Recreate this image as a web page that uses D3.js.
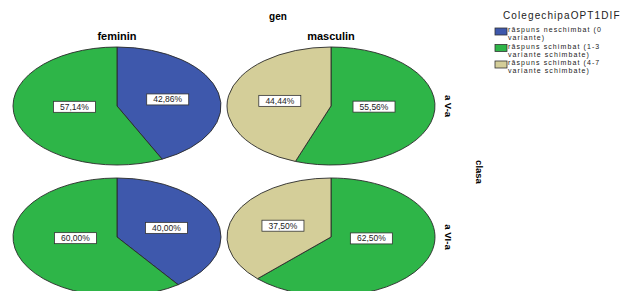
<!DOCTYPE html>
<html><head><meta charset="utf-8">
<script src="https://cdn.jsdelivr.net/npm/d3@7"></script>
<style>body{margin:0;background:#fff}svg{display:block}text{font-family:"Liberation Sans",Arial,sans-serif}</style>
</head><body><svg id="c" width="632" height="291"></svg>
<script>
const categories = ["răspuns neschimbat (0 variante)", "răspuns schimbat (1-3 variante schimbate)", "răspuns schimbat (4-7 variante schimbate)"];
const legendLines = [["răspuns neschimbat (0", "variante)"], ["răspuns schimbat (1-3", "variante schimbate)"], ["răspuns schimbat (4-7", "variante schimbate)"]];
const genders = ["feminin", "masculin"];
const classes = ["a V-a", "a VI-a"];
const femininV = [42.86, 57.14, 0];
const masculinV = [0, 55.56, 44.44];
const femininVI = [40.00, 60.00, 0];
const masculinVI = [0, 62.50, 37.50];
const colors = ["#3e58ac", "#2eb548", "#d4ce99"];

const panels = [
  {g: 0, c: 0, vals: femininV},
  {g: 1, c: 0, vals: masculinV},
  {g: 0, c: 1, vals: femininVI},
  {g: 1, c: 1, vals: masculinVI}
];

const svg = d3.select("#c");
const xCenter = d3.scalePoint().domain(genders).range([117, 331]);
const yCenter = d3.scalePoint().domain(classes).range([106, 237]);
const rx = 104, ry = 59;
const color = d3.scaleOrdinal().domain(categories).range(colors);
const pie = d3.pie().sort(null).value(d => d.v);
const arc = d3.arc().innerRadius(0).outerRadius(rx);
const fmt = v => d3.format(".2f")(v).replace(".", ",") + "%";

panels.forEach(p => {
  const cx = xCenter(genders[p.g]), cy = yCenter(classes[p.c]);
  const data = pie(p.vals.map((v, i) => ({v, cat: categories[i]})));
  const g = svg.append("g").attr("transform", `translate(${cx},${cy}) scale(1,${ry / rx})`);
  g.selectAll("path").data(data.filter(d => d.data.v > 0)).join("path")
    .attr("d", arc).attr("fill", d => color(d.data.cat))
    .attr("stroke", "#2a2a2a").attr("stroke-width", 0.9).attr("vector-effect", "non-scaling-stroke");
  const lg = svg.append("g").attr("transform", `translate(${cx},${cy})`);
  data.filter(d => d.data.v > 0).forEach(d => {
    const a = (d.startAngle + d.endAngle) / 2;
    const big = (d.endAngle - d.startAngle) > Math.PI;
    const k = big ? 0.42 : 0.5, fy = big ? 0.15 : 1;
    const lx = Math.sin(a) * rx * k, ly = -Math.cos(a) * ry * k * fy;
    const t = fmt(d.data.v);
    lg.append("rect").attr("x", lx - 21).attr("y", ly - 5.5).attr("width", 42).attr("height", 11)
      .attr("fill", "#fff").attr("stroke", "#333").attr("stroke-width", 0.8);
    lg.append("text").attr("x", lx).attr("y", ly + 3).attr("text-anchor", "middle")
      .attr("font-size", 8.5).attr("fill", "#222").text(t);
  });
});

// headers
svg.append("text").attr("x", 278).attr("y", 20).attr("text-anchor", "middle")
  .attr("font-size", 10).attr("font-weight", "bold").text("gen");
genders.forEach(gn => svg.append("text").attr("x", xCenter(gn)).attr("y", 40).attr("text-anchor", "middle")
  .attr("font-size", 11).attr("font-weight", "bold").text(gn));
classes.forEach(cl => svg.append("text").attr("transform", `translate(445,${yCenter(cl)}) rotate(90)`)
  .attr("text-anchor", "middle").attr("font-size", 9.5).attr("font-weight", "bold").text(cl));
svg.append("text").attr("transform", `translate(476,172) rotate(90)`).attr("text-anchor", "middle")
  .attr("font-size", 9.5).attr("font-weight", "bold").text("clasa");

// legend
svg.append("text").attr("x", 503).attr("y", 19).attr("font-size", 10).attr("letter-spacing", 1.1)
  .attr("fill", "#222").text("ColegechipaOPT1DIF");
legendLines.forEach((lines, i) => {
  const y0 = 27 + i * 16.5;
  svg.append("rect").attr("x", 495).attr("y", y0 + 1).attr("width", 12).attr("height", 7)
    .attr("fill", colors[i]).attr("stroke", "#333").attr("stroke-width", 0.8);
  lines.forEach((ln, j) => svg.append("text").attr("x", 508).attr("y", y0 + 5 + j * 8)
    .attr("font-size", 7).attr("letter-spacing", 1.1).attr("fill", "#222").text(ln));
});
</script></body></html>
